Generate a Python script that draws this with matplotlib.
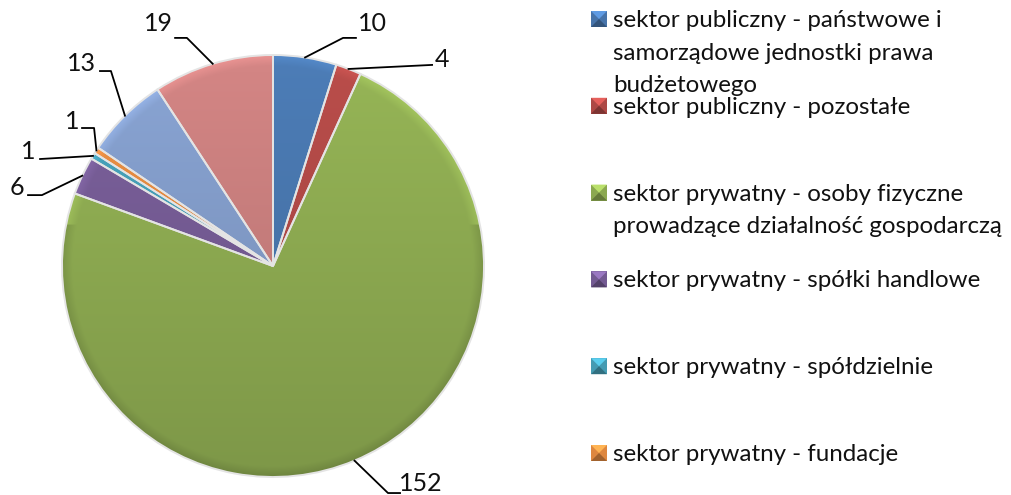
import numpy as np
import matplotlib.pyplot as plt
from matplotlib.patches import Rectangle, Polygon
from matplotlib.colors import to_rgb

plt.rcParams["font.family"] = ["Lato", "DejaVu Sans"]

# dane do wykresu
wartosci = [10, 4, 152, 6, 1, 1, 13, 19]
kolory = ["#4F81BD", "#C0504D", "#9BBB59", "#8064A2",
          "#4BACC6", "#F79646", "#8EAADB", "#DB8A89"]
legenda = [
    "sektor publiczny - państwowe i\nsamorządowe jednostki prawa\nbudżetowego",
    "sektor publiczny - pozostałe",
    "sektor prywatny - osoby fizyczne\nprowadzące działalność gospodarczą",
    "sektor prywatny - spółki handlowe",
    "sektor prywatny - spółdzielnie",
    "sektor prywatny - fundacje",
]

# polozenie etykiet (jednostki promienia kola): lamanie linii, koniec linii, tekst
lamanie = [(0.332, 1.081), None, (0.545, -1.076), (-1.095, 0.336),
           None, (-0.848, 0.654), (-0.768, 0.924), (-0.408, 1.081)]
koniec = [(0.393, 1.081), (0.754, 0.953), (0.602, -1.076), (-1.161, 0.336),
          (-1.104, 0.507), (-0.905, 0.654), (-0.820, 0.924), (-0.464, 1.081)]
pozycja_tekstu = [(0.469, 1.147), (0.801, 0.981), (0.701, -1.033), (-1.213, 0.374),
                  (-1.161, 0.545), (-0.953, 0.687), (-0.910, 0.962), (-0.545, 1.147)]

W, H = 1011, 495
CX, CY, R = 273, 266, 211

fig = plt.figure(figsize=(W / 100, H / 100), dpi=100)
ax = fig.add_axes([0, 0, 1, 1])
ax.axis("off")

wedges, _ = ax.pie(wartosci, colors=kolory, startangle=90, counterclock=False,
                   radius=1.0, wedgeprops=dict(edgecolor="#e4e4e4", linewidth=1.4))

# cieniowanie wycinkow - gradient od jasnego (gora) do ciemnego (dol) + krawedz
n = 300
xs = np.linspace(-1.05, 1.05, n)
ys = np.linspace(1.05, -1.05, n)
gx, gy = np.meshgrid(xs, ys)
rr = np.hypot(gx, gy)
obrzeze = np.clip((rr - 0.95) / 0.05, 0, 1)
jasnosc = 0.97 - 0.16 * (1 - gy) / 2
jasnosc = jasnosc - obrzeze * 0.10 * (gy < 0.2) + obrzeze * 0.10 * (gy >= 0.2)
for w, kol in zip(wedges, kolory):
    rgb = np.array(to_rgb(kol))
    img = np.clip(jasnosc[..., None] * rgb[None, None, :], 0, 1)
    im = ax.imshow(img, extent=(-1.05, 1.05, -1.05, 1.05), aspect="auto",
                   zorder=w.get_zorder() + 0.1, interpolation="bilinear")
    im.set_clip_path(w)
    w.set_zorder(w.get_zorder() + 0.2)
    w.set_facecolor("none")
ax.set_aspect("auto")
ax.set_xlim(-CX / R, (W - CX) / R)
ax.set_ylim(-(H - CY) / R, CY / R)

# etykiety wartosci z liniami odniesienia
kat = 90.0
suma = sum(wartosci)
for i, v in enumerate(wartosci):
    srodek = np.radians(kat - v / suma * 180)
    kat -= v / suma * 360
    px, py = [np.cos(srodek)], [np.sin(srodek)]
    if lamanie[i] is not None:
        px.append(lamanie[i][0])
        py.append(lamanie[i][1])
    px.append(koniec[i][0])
    py.append(koniec[i][1])
    ax.plot(px, py, color="black", lw=1.3, zorder=5)
    ax.text(pozycja_tekstu[i][0], pozycja_tekstu[i][1], str(v),
            ha="center", va="center", fontsize=18, color="#111111")

# legenda rysowana recznie
x_kw, x_txt = 591, 613
krok, odstep = 86.8, 32.7
for i, tekst in enumerate(legenda):
    baza = 27 + krok * i
    rgb = np.array(to_rgb(kolory[i]))
    x0, y0 = x_kw / W, 1 - baza / H
    sw, sh = 16 / W, 16 / H
    fig.patches.append(Rectangle((x0, y0), sw, sh, transform=fig.transFigure,
                                 facecolor=rgb * 0.9, edgecolor="none"))
    fig.patches.append(Polygon([(x0, y0 + sh), (x0 + sw, y0 + sh), (x0 + sw / 2, y0 + sh / 2)],
                               closed=True, transform=fig.transFigure,
                               facecolor=np.clip(rgb * 1.2, 0, 1), edgecolor="none"))
    fig.patches.append(Polygon([(x0, y0), (x0 + sw, y0), (x0 + sw / 2, y0 + sh / 2)],
                               closed=True, transform=fig.transFigure,
                               facecolor=rgb * 0.65, edgecolor="none"))
    for j, linia in enumerate(tekst.split("\n")):
        fig.text(x_txt / W, 1 - (baza + odstep * j) / H, linia,
                 ha="left", va="baseline", fontsize=17.4, color="#111111")

fig.savefig("out.png", dpi=100)
